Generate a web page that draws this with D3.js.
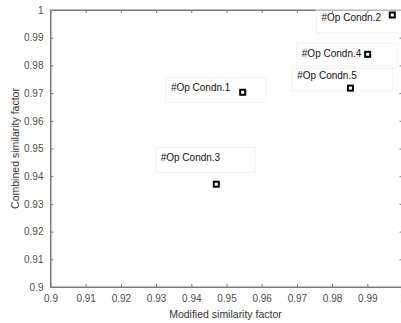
<!DOCTYPE html>
<html>
<head>
<meta charset="utf-8">
<script src="https://cdn.jsdelivr.net/npm/d3@7"></script>
<style>
  body { margin: 0; background: #fff; }
  svg { display: block; }
</style>
</head>
<body>
<svg id="chart" width="401" height="323"></svg>
<script>
// operating conditions
const names = ["#Op Condn.1", "#Op Condn.2", "#Op Condn.3", "#Op Condn.4", "#Op Condn.5"];
const modified = [0.9546, 0.9971, 0.9471, 0.9901, 0.9852];
const combined = [0.9703, 0.9982, 0.9371, 0.9840, 0.9718];
// where each text label sits (data units: left edge, vertical middle)
const labelX = [0.9342, 0.9770, 0.9313, 0.9714, 0.9701];
const labelY = [0.9721, 0.9972, 0.9468, 0.9844, 0.9762];
const ticks = [0.9, 0.91, 0.92, 0.93, 0.94, 0.95, 0.96, 0.97, 0.98, 0.99, 1];

const fontFamily = "'Liberation Sans', Arial, sans-serif";
const axesColor = "#7a7a7a";
const tickTextColor = "#4d4d4d";

const svg = d3.select("#chart");
const plotLeft = 50.5, plotRight = 402.5, plotTop = 10, plotBottom = 287;

const xScale = d3.scaleLinear([0.9, 1], [plotLeft, plotRight]);
const yScale = d3.scaleLinear([0.9, 1], [plotBottom, plotTop]);
const fmt = d => (d === 1 ? "1" : d === 0.9 ? "0.9" : d3.format(".2f")(d));

// box outline
svg.append("rect")
  .attr("x", plotLeft).attr("y", plotTop)
  .attr("width", plotRight - plotLeft).attr("height", plotBottom - plotTop)
  .attr("fill", "none").attr("stroke", axesColor).attr("stroke-width", 1);

const xAxis = d3.axisBottom(xScale).tickValues(ticks).tickFormat(fmt).tickSizeInner(-3).tickSizeOuter(0).tickPadding(8);
const yAxis = d3.axisLeft(yScale).tickValues(ticks).tickFormat(fmt).tickSizeInner(-3).tickSizeOuter(0).tickPadding(7);
const xTop = d3.axisTop(xScale).tickValues(ticks).tickFormat("").tickSizeInner(-3).tickSizeOuter(0);
const yRight = d3.axisRight(yScale).tickValues(ticks).tickFormat("").tickSizeInner(-3).tickSizeOuter(0);

const gx = svg.append("g").attr("transform", `translate(0,${plotBottom})`).call(xAxis);
const gy = svg.append("g").attr("transform", `translate(${plotLeft},0)`).call(yAxis);
const gxt = svg.append("g").attr("transform", `translate(0,${plotTop})`).call(xTop);
const gyr = svg.append("g").attr("transform", `translate(${plotRight},0)`).call(yRight);

[gx, gy, gxt, gyr].forEach(g => {
  g.select(".domain").attr("stroke", axesColor);
  g.selectAll(".tick line").attr("stroke", axesColor);
  g.selectAll("text")
    .attr("font-family", fontFamily)
    .attr("font-size", 10)
    .attr("fill", tickTextColor);
});

// axis titles
svg.append("text")
  .attr("x", (plotLeft + plotRight) / 2 - 1).attr("y", 318)
  .attr("text-anchor", "middle")
  .attr("font-family", fontFamily).attr("font-size", 10.5)
  .attr("fill", "#333")
  .text("Modified similarity factor");

svg.append("text")
  .attr("transform", `translate(19,${(plotTop + plotBottom) / 2}) rotate(-90)`)
  .attr("text-anchor", "middle")
  .attr("font-family", fontFamily).attr("font-size", 10.5)
  .attr("fill", "#333")
  .text("Combined similarity factor");

// label boxes and text
const labels = svg.append("g");
names.forEach((name, i) => {
  const lx = xScale(labelX[i]), ly = yScale(labelY[i]);
  const boxTop = Math.max(ly - 10, plotTop);
  labels.append("rect")
    .attr("x", lx - 5).attr("y", boxTop)
    .attr("width", 100).attr("height", ly + 15 - boxTop)
    .attr("fill", "none").attr("stroke", "#f3f3f3").attr("stroke-width", 1);
  labels.append("text")
    .attr("x", lx).attr("y", ly)
    .attr("dy", "0.35em")
    .attr("font-family", fontFamily).attr("font-size", 10)
    .attr("fill", "#111")
    .text(name);
});

// markers
svg.append("g").selectAll("rect")
  .data(d3.range(names.length))
  .join("rect")
  .attr("x", i => xScale(modified[i]) - 2.5)
  .attr("y", i => yScale(combined[i]) - 2.5)
  .attr("width", 5).attr("height", 5)
  .attr("fill", "#fff").attr("stroke", "#000").attr("stroke-width", 2);
</script>
</body>
</html>
